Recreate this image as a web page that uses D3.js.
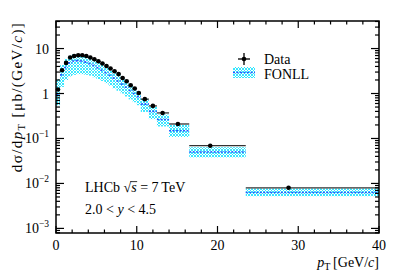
<!DOCTYPE html>
<html lang="en">
<head>
<meta charset="UTF-8" />
<title>LHCb differential cross-section vs pT</title>
<script src="https://d3js.org/d3.v7.min.js"></script>
<style>
  body { margin: 0; background: #fff; }
  svg { display: block; font-family: "Liberation Serif", "DejaVu Serif", serif; }
</style>
</head>
<body>
<svg id="chart" width="399" height="278"></svg>
<script>
  // pT bins [GeV/c]
  const binLo = [0, 0.5, 1, 1.5, 2, 2.5, 3, 3.5, 4, 4.5, 5, 5.5, 6, 6.5, 7, 7.5, 8, 8.5, 9, 9.5, 10,
                 10.5, 11.5, 12.5, 14, 16.5, 23.5];
  const binHi = [0.5, 1, 1.5, 2, 2.5, 3, 3.5, 4, 4.5, 5, 5.5, 6, 6.5, 7, 7.5, 8, 8.5, 9, 9.5, 10, 10.5,
                 11.5, 12.5, 14, 16.5, 23.5, 40];
  // data points
  const dataX = [0.25, 0.75, 1.25, 1.75, 2.25, 2.75, 3.25, 3.75, 4.25, 4.75, 5.25, 5.75, 6.25, 6.75,
                 7.25, 7.75, 8.25, 8.75, 9.25, 9.75, 10.25, 11.0, 12.0, 13.2, 15.1, 19.1, 28.8];
  const dataY = [1.23, 3.3, 4.8, 6.3, 6.85, 7.1, 7.1, 6.85, 6.3, 5.8, 5.2, 4.65, 4.1, 3.6,
                 3.13, 2.7, 2.22, 1.88, 1.53, 1.29, 1.03, 0.75, 0.53, 0.37, 0.21, 0.069, 0.0080];
  const dataErr = [0.08, 0.18, 0.25, 0.3, 0.32, 0.33, 0.33, 0.32, 0.29, 0.27, 0.24, 0.21, 0.19, 0.17,
                   0.15, 0.13, 0.11, 0.09, 0.08, 0.07, 0.055, 0.04, 0.03, 0.02, 0.012, 0.004, 0.0006];
  // FONLL prediction: central value and uncertainty band
  const fonllMid = [0.95, 2.6, 3.8, 4.8, 5.3, 5.4, 5.3, 5.0, 4.6, 4.2, 3.75, 3.3, 2.9, 2.55,
                    2.2, 1.9, 1.62, 1.38, 1.17, 1.0, 0.85, 0.58, 0.40, 0.265, 0.148, 0.050, 0.0063];
  const fonllLo = [0.55, 1.4, 2.0, 2.4, 2.6, 2.7, 2.7, 2.6, 2.5, 2.3, 2.1, 1.9, 1.7, 1.5,
                   1.3, 1.15, 1.0, 0.86, 0.74, 0.64, 0.55, 0.39, 0.27, 0.185, 0.108, 0.038, 0.0052];
  const fonllHi = [2.1, 4.3, 5.9, 7.0, 7.5, 7.5, 7.3, 6.9, 6.3, 5.7, 5.1, 4.5, 3.9, 3.4,
                   2.95, 2.55, 2.15, 1.83, 1.55, 1.32, 1.12, 0.76, 0.52, 0.34, 0.20, 0.064, 0.0077];

  const xTicks = [0, 10, 20, 30, 40];
  const yTicks = [1e-3, 1e-2, 1e-1, 1, 10];
  const yTickBase = ["10", "10", "10", "1", "10"];
  const yTickExp = ["\u22123", "\u22122", "\u22121", "", ""];

  const svg = d3.select("#chart");
  const mLeft = 56, mRight = 379, mTop = 21, mBottom = 233;

  const x = d3.scaleLinear().domain([0, 40]).range([mLeft, mRight]);
  const y = d3.scaleLog().domain([7.9e-4, 41]).range([mBottom, mTop]);

  const defs = svg.append("defs");
  const pat = defs.append("pattern")
    .attr("id", "hatch")
    .attr("patternUnits", "userSpaceOnUse")
    .attr("width", 3)
    .attr("height", 3);
  pat.append("path")
    .attr("d", "M0,0L3,3M3,0L0,3")
    .attr("stroke", "#22e4ff")
    .attr("stroke-width", 0.9);

  const idx = d3.range(dataX.length);

  // FONLL band
  svg.append("g")
    .selectAll("rect")
    .data(idx)
    .enter().append("rect")
    .attr("x", i => x(binLo[i]))
    .attr("width", i => x(binHi[i]) - x(binLo[i]))
    .attr("y", i => y(fonllHi[i]))
    .attr("height", i => y(fonllLo[i]) - y(fonllHi[i]))
    .attr("fill", "url(#hatch)");

  svg.append("path")
    .attr("d", idx.map(i => `M${x(binLo[i])},${y(fonllMid[i])}H${x(binHi[i])}`).join(""))
    .attr("fill", "none")
    .attr("stroke", "#2a55ff")
    .attr("stroke-width", 1.6)
    .attr("stroke-dasharray", "2,1.5");

  // data
  const dg = svg.append("g");
  dg.selectAll("line.h")
    .data(idx)
    .enter().append("line")
    .attr("x1", i => x(binLo[i]))
    .attr("x2", i => x(binHi[i]))
    .attr("y1", i => y(dataY[i]))
    .attr("y2", i => y(dataY[i]))
    .attr("stroke", "#333")
    .attr("stroke-width", 1.3);
  dg.selectAll("line.v")
    .data(idx)
    .enter().append("line")
    .attr("x1", i => x(dataX[i]))
    .attr("x2", i => x(dataX[i]))
    .attr("y1", i => y(dataY[i] + dataErr[i]))
    .attr("y2", i => y(dataY[i] - dataErr[i]))
    .attr("stroke", "#333")
    .attr("stroke-width", 1.3);
  dg.selectAll("circle")
    .data(idx)
    .enter().append("circle")
    .attr("cx", i => x(dataX[i]))
    .attr("cy", i => y(dataY[i]))
    .attr("r", 2.3)
    .attr("fill", "#000");

  // frame and ticks
  const axes = svg.append("g").attr("stroke", "#000").attr("stroke-width", 1.2);
  d3.range(0, 41, 2).forEach(v => {
    const len = v % 10 === 0 ? 7 : 3.5;
    axes.append("line").attr("x1", x(v)).attr("x2", x(v)).attr("y1", mBottom).attr("y2", mBottom - len);
    axes.append("line").attr("x1", x(v)).attr("x2", x(v)).attr("y1", mTop).attr("y2", mTop + len);
  });
  y.ticks().forEach(v => {
    const major = Math.abs(Math.log10(v) - Math.round(Math.log10(v))) < 1e-6;
    const len = major ? 8 : 4;
    axes.append("line").attr("x1", mLeft).attr("x2", mLeft + len).attr("y1", y(v)).attr("y2", y(v));
    axes.append("line").attr("x1", mRight).attr("x2", mRight - len).attr("y1", y(v)).attr("y2", y(v));
  });
  svg.append("rect")
    .attr("x", mLeft).attr("y", mTop)
    .attr("width", mRight - mLeft).attr("height", mBottom - mTop)
    .attr("fill", "none").attr("stroke", "#000").attr("stroke-width", 1.5);

  // tick labels
  svg.append("g")
    .selectAll("text")
    .data(xTicks)
    .enter().append("text")
    .attr("x", d => x(d))
    .attr("y", 250)
    .attr("text-anchor", "middle")
    .attr("font-size", 14)
    .text(d => d);

  yTicks.forEach((v, i) => {
    const t = svg.append("text")
      .attr("x", 49)
      .attr("y", y(v) + 5)
      .attr("text-anchor", "end")
      .attr("font-size", 14);
    t.append("tspan").text(yTickBase[i]);
    if (yTickExp[i]) {
      t.append("tspan").attr("dy", -6).attr("font-size", 9.5).text(yTickExp[i]);
    }
  });

  // axis titles
  const yt = svg.append("text")
    .attr("transform", "translate(22,97) rotate(-90)")
    .attr("text-anchor", "middle")
    .attr("font-size", 15)
    .attr("letter-spacing", 1.4);
  yt.append("tspan").text("d\u03c3/d");
  yt.append("tspan").attr("font-style", "italic").text("p");
  yt.append("tspan").attr("font-size", 10.5).attr("dy", 3).text("T");
  yt.append("tspan").attr("dy", -3).text(" [\u03bcb/(GeV/");
  yt.append("tspan").attr("font-style", "italic").text("c");
  yt.append("tspan").text(")]");

  const xt = svg.append("text")
    .attr("x", mRight)
    .attr("y", 267)
    .attr("text-anchor", "end")
    .attr("font-size", 14);
  xt.append("tspan").attr("font-style", "italic").text("p");
  xt.append("tspan").attr("font-size", 10).attr("dy", 3).text("T");
  xt.append("tspan").attr("dy", -3).text("\u2009[GeV/");
  xt.append("tspan").attr("font-style", "italic").text("c");
  xt.append("tspan").text("]");

  // LHCb label
  const l1 = svg.append("text").attr("x", 85).attr("y", 192).attr("font-size", 14);
  l1.append("tspan").text("LHCb \u221a");
  l1.append("tspan").attr("font-style", "italic").text("s");
  l1.append("tspan").text(" = 7\u2009TeV");
  const node = l1.node();
  const rootBox = node.getExtentOfChar(5);
  const sBox = node.getExtentOfChar(6);
  svg.append("line")
    .attr("x1", rootBox.x + rootBox.width - 0.8)
    .attr("x2", sBox.x + sBox.width + 0.5)
    .attr("y1", rootBox.y + 1.6)
    .attr("y2", rootBox.y + 1.6)
    .attr("stroke", "#000")
    .attr("stroke-width", 0.8);

  const l2 = svg.append("text").attr("x", 85).attr("y", 214).attr("font-size", 14);
  l2.append("tspan").text("2.0 < ");
  l2.append("tspan").attr("font-style", "italic").text("y");
  l2.append("tspan").text(" < 4.5");

  // legend
  const lg = svg.append("g");
  lg.append("line").attr("x1", 238).attr("x2", 250).attr("y1", 59).attr("y2", 59)
    .attr("stroke", "#000").attr("stroke-width", 1.3);
  lg.append("line").attr("x1", 244).attr("x2", 244).attr("y1", 53).attr("y2", 65)
    .attr("stroke", "#000").attr("stroke-width", 1.3);
  lg.append("circle").attr("cx", 244).attr("cy", 59).attr("r", 2.3).attr("fill", "#000");
  lg.append("text").attr("x", 264).attr("y", 64).attr("font-size", 14).text("Data");
  lg.append("rect").attr("x", 233).attr("y", 67).attr("width", 22).attr("height", 11)
    .attr("fill", "url(#hatch)");
  lg.append("line").attr("x1", 233).attr("x2", 255).attr("y1", 72.5).attr("y2", 72.5)
    .attr("stroke", "#2a55ff").attr("stroke-width", 1.6).attr("stroke-dasharray", "2,1.5");
  lg.append("text").attr("x", 264).attr("y", 79).attr("font-size", 14).text("FONLL");
</script>
</body>
</html>
